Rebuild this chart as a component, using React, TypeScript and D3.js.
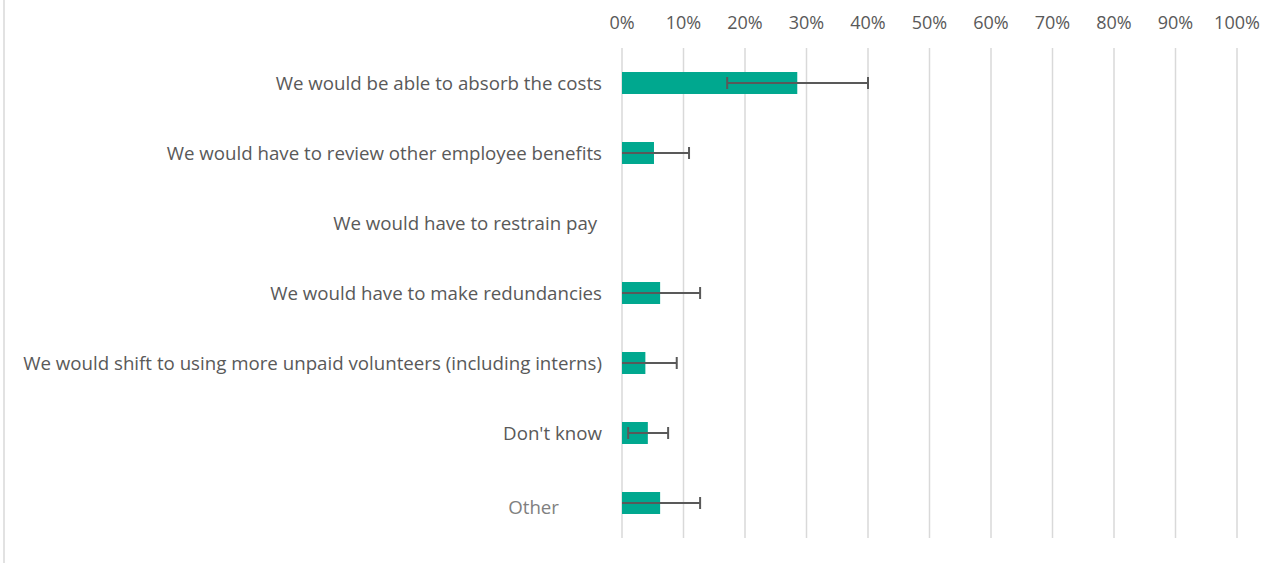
import React from "react";
import * as d3 from "d3";

const categories = [
  "We would be able to absorb the costs",
  "We would have to review other employee benefits",
  "We would have to restrain pay ",
  "We would have to make redundancies",
  "We would shift to using more unpaid volunteers (including interns)",
  "Don't know",
  "Other",
];
const values = [0.285, 0.052, 0, 0.062, 0.038, 0.042, 0.062];
const errLow = [0.171, -0.01, 0, -0.01, -0.01, 0.01, -0.01];
const errHigh = [0.4, 0.109, 0, 0.127, 0.089, 0.075, 0.127];
const ticks = [0, 0.1, 0.2, 0.3, 0.4, 0.5, 0.6, 0.7, 0.8, 0.9, 1.0];

const W = 1287;
const H = 563;
const FONT = "'Open Sans', 'Noto Sans', sans-serif";

export default function App() {
  const x = d3.scaleLinear().domain([0, 1]).range([622, 1237]);
  const y = d3.scaleBand<string>().domain(categories).range([48, 538]).paddingInner(0.686).paddingOuter(0.343);
  const fmt = d3.format(".0%");
  const bh = y.bandwidth();
  return (
    <svg width={W} height={H} style={{ position: "fixed", left: 0, top: 0, background: "#fff" }}>
      <line x1={4} x2={4} y1={0} y2={H} stroke="#d9d9d9" strokeWidth={1.5} />
      {ticks.map((t) => (
        <g key={t}>
          <line x1={x(t)} x2={x(t)} y1={48} y2={538} stroke="#d9d9d9" strokeWidth={1.5} />
          <text x={x(t)} y={29} textAnchor="middle" fontFamily={FONT} fontSize={18} fill="#595959">
            {fmt(t)}
          </text>
        </g>
      ))}
      {categories.map((c, i) => {
        const yc = (y(c) as number) + bh / 2;
        const lo = Math.max(0, errLow[i]);
        const hi = errHigh[i];
        const isOther = c === "Other";
        return (
          <g key={c}>
            <text
              x={isOther ? 559 : 602}
              y={isOther ? yc + 4 : yc}
              dy="0.35em"
              textAnchor="end"
              fontFamily={FONT}
              fontSize={18.7}
              fill={isOther ? "#808080" : "#595959"}
              style={{ whiteSpace: "pre" }}
            >
              {c}
            </text>
            {values[i] > 0 && (
              <rect x={x(0)} y={y(c)} width={x(values[i]) - x(0)} height={bh} fill="#00a88f" />
            )}
            {hi > 0 && (
              <g stroke="#595959" strokeWidth={2}>
                <line x1={x(lo)} x2={x(hi)} y1={yc} y2={yc} />
                <line x1={x(hi)} x2={x(hi)} y1={yc - 6} y2={yc + 6} />
                {errLow[i] >= 0 && <line x1={x(lo)} x2={x(lo)} y1={yc - 6} y2={yc + 6} />}
              </g>
            )}
          </g>
        );
      })}
    </svg>
  );
}
